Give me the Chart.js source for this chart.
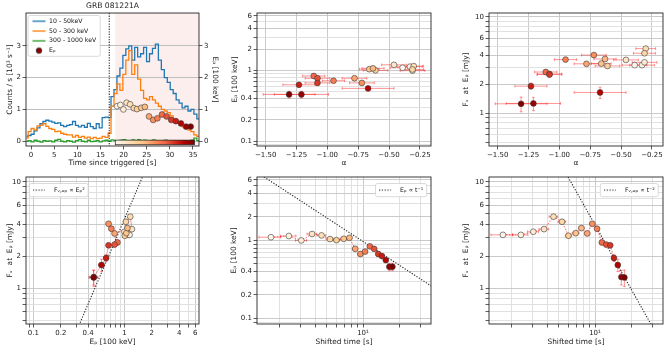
<!DOCTYPE html>
<html>
<head>
<meta charset="utf-8">
<script src="https://cdn.jsdelivr.net/npm/chart.js@4/dist/chart.umd.min.js"></script>
<style>
html,body{margin:0;padding:0;background:#fff;}
#fig{position:relative;width:670px;height:352px;overflow:hidden;background:#fff;}
#fig canvas{position:absolute;}
</style>
</head>
<body>
<div id="fig">
<canvas id="lc" width="225" height="170" style="left:0px;top:0px"></canvas>
<canvas id="alphaEp" width="220" height="170" style="left:225px;top:0px"></canvas>
<canvas id="alphaFlux" width="225" height="170" style="left:445px;top:0px"></canvas>
<canvas id="epFlux" width="225" height="182" style="left:0px;top:170px"></canvas>
<canvas id="timeEp" width="220" height="182" style="left:225px;top:170px"></canvas>
<canvas id="timeFlux" width="225" height="182" style="left:445px;top:170px"></canvas>
</div>
<script>
// ================= DATA =================
// Light curves (GRB 081221A), bin centres [s] and count rates [10^3 counts/s]
const lcTime = [-0.96,-0.32,0.32,0.96,1.60,2.24,2.88,3.52,4.16,4.80,5.44,6.08,6.72,7.36,8.00,8.64,9.28,9.92,10.56,11.20,
  11.84,12.48,13.12,13.76,14.40,15.04,15.68,16.32,16.96,17.60,18.24,18.88,19.52,20.16,20.80,21.44,22.08,22.72,23.36,24.00,
  24.64,25.28,25.92,26.56,27.20,27.84,28.48,29.12,29.76,30.40,31.04,31.68,32.32,32.96,33.60,34.24,34.88,35.52,36.16,36.80];
const counts10to50 = [0.15,0.18,0.22,0.33,0.42,0.55,0.62,0.66,0.63,0.60,0.56,0.58,0.50,0.46,0.50,0.52,0.62,0.50,0.45,0.50,
  0.44,0.56,0.46,0.40,0.55,0.42,0.74,0.76,0.74,1.40,1.62,2.05,2.30,2.70,2.90,3.00,2.55,2.95,2.65,2.75,
  2.95,2.50,2.75,2.92,3.05,2.55,2.25,2.00,1.85,1.62,1.50,1.30,1.20,1.05,1.10,0.95,1.00,0.85,0.70,0.65];
const counts50to300 = [0.10,0.30,0.40,0.35,0.48,0.50,0.55,0.47,0.40,0.37,0.30,0.32,0.25,0.22,0.20,0.20,0.13,0.18,0.12,0.15,
  0.10,0.13,0.08,0.12,0.08,0.10,0.15,0.12,0.25,1.10,1.50,1.80,1.60,2.10,2.55,2.85,2.10,2.40,1.95,1.60,
  1.35,1.30,1.40,1.30,1.20,1.10,1.00,0.95,0.90,0.80,0.70,0.60,0.55,0.45,0.40,0.35,0.30,0.20,0.15,0.12];
const counts300to1000 = [0.00,0.02,-0.02,0.03,0.00,-0.03,0.02,0.00,0.01,-0.02,0.03,0.06,0.00,-0.02,0.02,0.00,-0.03,0.02,0.05,0.00,
  -0.02,0.03,-0.01,0.00,0.02,-0.02,0.01,0.03,0.00,0.04,0.02,0.00,0.03,0.05,0.02,0.00,0.04,0.02,0.05,0.01,
  0.03,0.00,0.02,0.04,0.01,0.00,0.02,0.03,0.00,0.01,0.02,0.00,0.01,0.02,0.00,0.01,0.03,0.10,0.02,0.00];

// Time-resolved spectral intervals
const sinceTrigger   = [18.6,19.3,19.95,20.65,21.4,22.2,22.9,23.8,24.6,25.5,26.4,27.3,28.3,29.3,30.3,31.3,32.4,33.5,34.5];
const shiftedTime    = [1.7,2.4,3.05,3.75,4.5,5.3,6.0,6.9,7.7,8.6,9.5,10.4,11.4,12.4,13.4,14.4,15.5,16.6,17.6];
const shiftedTimeErr = [0.35,0.35,0.33,0.35,0.37,0.40,0.35,0.45,0.40,0.45,0.45,0.45,0.50,0.50,0.50,0.50,0.55,0.55,0.50];
const peakEnergy     = [1.10,1.14,1.00,1.21,1.16,1.04,1.01,1.05,1.08,0.78,0.67,0.72,0.84,0.78,0.67,0.63,0.56,0.46,0.46];
const peakEnergyErr  = [0.05,0.05,0.05,0.06,0.05,0.05,0.04,0.05,0.05,0.04,0.04,0.04,0.04,0.04,0.04,0.04,0.04,0.05,0.05];
const fluxAtPeak     = [3.17,3.17,3.39,3.59,4.70,4.21,3.11,3.29,3.67,3.27,4.03,3.62,2.69,2.57,2.53,1.92,1.65,1.27,1.26];
const fluxAtPeakErr  = [0.14,0.14,0.15,0.16,0.20,0.18,0.14,0.15,0.16,0.15,0.18,0.16,0.14,0.13,0.13,0.14,0.22,0.20,0.22];
const alphaIndex     = [-0.39,-0.33,-0.31,-0.46,-0.30,-0.31,-0.61,-0.66,-0.63,-0.78,-0.72,-0.95,-1.11,-1.08,-1.08,-1.23,-0.67,-1.21,-1.31];
const alphaErr       = [0.10,0.10,0.10,0.10,0.08,0.09,0.10,0.08,0.09,0.10,0.10,0.09,0.09,0.10,0.10,0.13,0.21,0.22,0.21];

// Reference power laws (end points)
const lawEp2X = [0.30, 1.60];  const lawEp2Y = [0.40, 11.4];   // F ∝ Ep^2
const lawT1X  = [1.30, 37.0];  const lawT1Y  = [7.46, 0.262];  // Ep ∝ t^-1
const lawT2X  = [5.50, 37.0];  const lawT2Y  = [13.0, 0.288];  // F ∝ t^-2

// Tick / grid values
const timeTicks  = [0,5,10,15,20,25,30,35];
const countTicks = [0,1,2,3];
const alphaTicks = [-1.5,-1.25,-1.0,-0.75,-0.5,-0.25];
const epGrid     = [0.09,0.1,0.2,0.3,0.4,0.5,0.6,0.7,0.8,0.9,1,2,3,4,5,6];
const epLabels   = [0.1,0.2,0.4,1,2,4,6];
const fluxGrid   = [0.5,0.6,0.7,0.8,0.9,1,2,3,4,5,6,7,8,9,10];
const fluxLabels = [1,2,4,6,10];
const shiftGrid  = [2,3,4,5,6,7,8,9,10,20,30];
const shiftLabels= [10];

// Panel-1 decorations (time axis units)
const FIT_SPAN_START = 18.2;
const TRIGGER_MARK = 16.9;
const CBAR_T = [18.2, 35.3];
const CBAR_Y = [0.035, -0.11];

// ================= STYLE =================
Chart.defaults.font.family = "'DejaVu Sans', sans-serif";
Chart.defaults.font.size = 7;
Chart.defaults.color = '#222';
Chart.defaults.animation = false;
Chart.defaults.events = [];
Chart.defaults.plugins.tooltip.enabled = false;

const MAJOR_GRID = '#c4c4c4';
const MINOR_GRID = '#dedede';
const ERR_COLOR = 'rgba(255,0,0,0.42)';
const ORRD = ['#fff7ec','#fee8c8','#fdd49e','#fdbb84','#fc8d59','#ef6548','#d7301f','#b30000','#7f0000'];

function hexRgb(h){ return [parseInt(h.slice(1,3),16),parseInt(h.slice(3,5),16),parseInt(h.slice(5,7),16)]; }
function cmap(f){
  f = Math.min(1, Math.max(0, f));
  const p = f*(ORRD.length-1); const i = Math.min(Math.floor(p), ORRD.length-2); const u = p-i;
  const a = hexRgb(ORRD[i]), b = hexRgb(ORRD[i+1]);
  return 'rgb(' + a.map((v,k)=>Math.round(v+(b[k]-v)*u)).join(',') + ')';
}
const tMin = Math.min(...shiftedTime), tMax = Math.max(...shiftedTime);
const pointColors = shiftedTime.map(t => cmap((t - tMin)/(tMax - tMin)));

function pts(xs, ys){ return xs.map((x,i)=>({x, y: ys[i]})); }

function axis(o){
  const labeled = v => o.labels.some(l => Math.abs(l - v) <= 1e-9*Math.max(1, Math.abs(l)));
  const a = {
    type: o.type, position: o.position, min: o.min, max: o.max,
    afterBuildTicks: s => { s.ticks = o.grid.map(v => ({value: v})); },
    ticks: { autoSkip:false, maxRotation:0, minRotation:0, padding:1.5, color:'#222', font:{size:7},
      callback: v => labeled(v) ? o.fmt(v) : '' },
    grid: { display:true, drawOnChartArea: o.gridOn !== false,
      color: c => (c.tick && labeled(c.tick.value)) ? (o.major || MAJOR_GRID) : MINOR_GRID,
      lineWidth: 0.9, drawTicks:true, tickLength:3.5, tickColor:'#333', tickWidth:0.8 },
    border: { display:false },
    title: { display:true, text:o.title, color:'#222', font:{size:7.4}, padding:{top:o.tpad, bottom:o.tpad} }
  };
  if (o.width !== undefined) a.afterFit = s => { s.width = o.width; };
  if (o.height !== undefined) a.afterFit = s => { s.height = o.height; };
  return a;
}
const fmtPlain = v => String(+v.toFixed(2));
const fmtAlpha = v => v.toFixed(2).replace('-', '\u2212');
const fmtDecade = v => '10\u00b9';

// ----- legend helpers -----
function lineImage(color, dash, width, start, len, lw){
  const c = document.createElement('canvas'); c.width = width; c.height = 4;
  const g = c.getContext('2d'); g.strokeStyle = color; g.lineWidth = lw; g.setLineDash(dash);
  g.beginPath(); g.moveTo(start, 2); g.lineTo(start+len, 2); g.stroke(); return c;
}
function dotImage(fill, edge, r){
  const c = document.createElement('canvas'); c.width = 10; c.height = 10;
  const g = c.getContext('2d'); g.fillStyle = fill; g.strokeStyle = edge; g.lineWidth = 0.6;
  g.beginPath(); g.arc(5,5,r,0,Math.PI*2); g.fill(); g.stroke(); return c;
}
function legendItem(text, img, idx){
  return { text, pointStyle: img, fillStyle:'rgba(0,0,0,0)', strokeStyle:'rgba(0,0,0,0)', lineWidth:0,
           hidden:false, datasetIndex: idx, fontColor:'#222', textAlign:'left' };
}

// ----- plugins -----
const legendFrame = {
  id: 'legendFrame',
  beforeDraw(chart, args, o){
    const lg = chart.legend; if (!lg || !lg.legendItems || !o || !o.corner) return;
    const ca = chart.chartArea, ctx = chart.ctx, pad = lg.options.labels.padding;
    ctx.save(); ctx.font = o.fontSize + "px 'DejaVu Sans'";
    const tw = Math.max(...lg.legendItems.map(it => ctx.measureText(it.text).width));
    ctx.restore();
    const n = lg.legendItems.length;
    const W = o.padL + o.boxWidth + o.fontSize/2 + tw + o.padR;
    const H = n*o.fontSize + (n-1)*pad + 2*o.padY;
    const fx = o.corner === 'tl' ? ca.left + o.dx : ca.right - o.dx - W;
    const fy = ca.top + o.dy;
    lg.left = fx + o.padL - pad; lg.top = fy + o.padY - pad;
    lg.right = ca.right; lg.bottom = ca.bottom; lg.width = lg.right - lg.left; lg.height = lg.bottom - lg.top;
    lg._frame = {x: fx, y: fy, w: W, h: H};
  },
  afterDatasetsDraw(chart){
    const lg = chart.legend; if (!lg || !lg._frame) return;
    const f = lg._frame, ctx = chart.ctx;
    ctx.save(); ctx.fillStyle = 'rgba(255,255,255,0.92)'; ctx.strokeStyle = '#d0d0d0'; ctx.lineWidth = 0.8;
    ctx.beginPath(); ctx.roundRect(f.x, f.y, f.w, f.h, 2); ctx.fill(); ctx.stroke(); ctx.restore();
    lg.draw();
  }
};
const errorBars = {
  id: 'errorBars',
  beforeDatasetDraw(chart, args){
    const ds = chart.data.datasets[args.index];
    if (!ds.errX && !ds.errY) return;
    const xs = chart.scales[args.meta.xAxisID], ys = chart.scales[args.meta.yAxisID];
    const ctx = chart.ctx, ca = chart.chartArea, cap = 1.4;
    ctx.save(); ctx.beginPath(); ctx.rect(ca.left, ca.top, ca.right-ca.left, ca.bottom-ca.top); ctx.clip();
    ctx.strokeStyle = ERR_COLOR; ctx.lineWidth = 1;
    ds.data.forEach((p, i) => {
      const px = xs.getPixelForValue(p.x), py = ys.getPixelForValue(p.y);
      ctx.beginPath();
      if (ds.errX){
        const a = xs.getPixelForValue(p.x - ds.errX[i]), b = xs.getPixelForValue(p.x + ds.errX[i]);
        ctx.moveTo(a,py); ctx.lineTo(b,py);
        ctx.moveTo(a,py-cap); ctx.lineTo(a,py+cap); ctx.moveTo(b,py-cap); ctx.lineTo(b,py+cap);
      }
      if (ds.errY){
        const a = ys.getPixelForValue(p.y - ds.errY[i]), b = ys.getPixelForValue(p.y + ds.errY[i]);
        ctx.moveTo(px,a); ctx.lineTo(px,b);
        ctx.moveTo(px-cap,a); ctx.lineTo(px+cap,a); ctx.moveTo(px-cap,b); ctx.lineTo(px+cap,b);
      }
      ctx.stroke();
    });
    ctx.restore();
  }
};
const axesFrame = {
  id: 'axesFrame',
  afterDraw(chart){
    const ctx = chart.ctx, ca = chart.chartArea;
    ctx.save(); ctx.strokeStyle = '#262626'; ctx.lineWidth = 0.9;
    ctx.strokeRect(ca.left, ca.top, ca.right-ca.left, ca.bottom-ca.top); ctx.restore();
  }
};
const lcDecor = {
  id: 'lcDecor',
  beforeDraw(chart){
    const ctx = chart.ctx, ca = chart.chartArea, x = chart.scales.x;
    const x0 = Math.max(ca.left, x.getPixelForValue(FIT_SPAN_START));
    ctx.save(); ctx.fillStyle = '#fdeeee'; ctx.fillRect(x0, ca.top, ca.right-x0, ca.bottom-ca.top); ctx.restore();
  },
  afterDatasetsDraw(chart){
    const ctx = chart.ctx, ca = chart.chartArea, x = chart.scales.x, y = chart.scales.y;
    const tx = x.getPixelForValue(TRIGGER_MARK);
    ctx.save(); ctx.strokeStyle = '#333'; ctx.lineWidth = 1.1; ctx.setLineDash([1.3,1.3]);
    ctx.beginPath(); ctx.moveTo(tx, ca.top); ctx.lineTo(tx, ca.bottom); ctx.stroke(); ctx.restore();
    const xa = x.getPixelForValue(CBAR_T[0]), xb = x.getPixelForValue(CBAR_T[1]);
    const ya = y.getPixelForValue(CBAR_Y[0]), yb = y.getPixelForValue(CBAR_Y[1]);
    const gr = ctx.createLinearGradient(xa, 0, xb, 0);
    ORRD.forEach((c,i) => gr.addColorStop(i/(ORRD.length-1), c));
    ctx.save(); ctx.fillStyle = gr; ctx.fillRect(xa, ya, xb-xa, yb-ya);
    ctx.strokeStyle = '#222'; ctx.lineWidth = 0.7; ctx.strokeRect(xa, ya, xb-xa, yb-ya); ctx.restore();
  }
};

const markerStyle = { showLine:false, pointRadius:2.9, pointBorderWidth:0.6, pointBorderColor:'#3a3a3a',
  pointBackgroundColor: pointColors, order:0 };
const PATH_SOLID = { showLine:true, pointRadius:0, borderColor:'rgba(255,0,0,0.4)', borderWidth:1, order:1 };
const PATH_DOTTED = { showLine:true, pointRadius:0, borderColor:'rgba(255,0,0,0.6)', borderWidth:1, borderDash:[1.5,1.5], order:1 };
const LAW_STYLE = { showLine:true, pointRadius:0, borderColor:'#222', borderWidth:1.1, borderDash:[1.2,1.6], order:2 };

function lawLegend(text, corner, dx){
  return {
    legend: { display:true, position:'chartArea', align:'start',
      labels: { usePointStyle:true, pointStyleWidth:18, padding:3, color:'#222', font:{size:6.2},
        generateLabels: () => [legendItem(text, lineImage('#222', [1.2,1.6], 18, 0, 12, 1.1), 2)] } },
    legendFrame: { corner, dx, dy:6.5, padL:3.5, padR:3.5, padY:3.5, fontSize:6.2, boxWidth:18 }
  };
}
const BASE = { responsive:false, devicePixelRatio:1, animation:false };

// ================= PANEL 1: light curves =================
new Chart(document.getElementById('lc'), {
  type: 'line',
  data: { datasets: [
    { label:'Eₚ', data: pts(sinceTrigger, peakEnergy), yAxisID:'y1', ...markerStyle },
    { label:'10 - 50keV', data: pts(lcTime, counts10to50), yAxisID:'y', borderColor:'#1f77b4', borderWidth:1.3, pointRadius:0, stepped:'middle', order:3 },
    { label:'50 - 300 keV', data: pts(lcTime, counts50to300), yAxisID:'y', borderColor:'#ff7f0e', borderWidth:1.3, pointRadius:0, stepped:'middle', order:2 },
    { label:'300 - 1000 keV', data: pts(lcTime, counts300to1000), yAxisID:'y', borderColor:'#2ca02c', borderWidth:1.3, pointRadius:0, stepped:'middle', order:1 }
  ]},
  options: { ...BASE, layout:{padding:0},
    scales: {
      x: axis({type:'linear', position:'bottom', min:-1.1, max:36.3, grid:timeTicks, labels:timeTicks, fmt:fmtPlain, gridOn:false, height:24, title:'Time since triggered [s]', tpad:2.9}),
      y: axis({type:'linear', position:'left', min:-0.15, max:4.03, grid:countTicks, labels:countTicks, fmt:fmtPlain, major:'#b8b8b8', width:26, title:'Counts / s [10³ s⁻¹]', tpad:5.6}),
      y1: axis({type:'linear', position:'right', min:-0.15, max:4.03, grid:countTicks, labels:countTicks, fmt:fmtPlain, gridOn:false, width:26, title:'Eₚ [100 keV]', tpad:5.6})
    },
    plugins: {
      title: { display:true, text:'GRB 081221A', color:'#222', font:{size:7.6, weight:'normal'}, padding:{top:1.5, bottom:2.4} },
      legend: { display:true, position:'chartArea', align:'start',
        labels: { usePointStyle:true, pointStyleWidth:14, padding:3.6, color:'#222', font:{size:6.2},
          generateLabels: () => [
            legendItem('10 - 50keV', lineImage('#1f77b4', [], 14, 0.5, 13, 1.3), 1),
            legendItem('50 - 300 keV', lineImage('#ff7f0e', [], 14, 0.5, 13, 1.3), 2),
            legendItem('300 - 1000 keV', lineImage('#2ca02c', [], 14, 0.5, 13, 1.3), 3),
            legendItem('Eₚ', dotImage('#8b0000', '#222', 2.8), 0)
          ] } },
      legendFrame: { corner:'tl', dx:2, dy:2.5, padL:4, padR:4, padY:2.6, fontSize:6.2, boxWidth:14 }
    }
  },
  plugins: [lcDecor, legendFrame, axesFrame]
});

// ================= PANEL 2: alpha vs Ep =================
new Chart(document.getElementById('alphaEp'), {
  type: 'scatter',
  data: { datasets: [ { label:'intervals', data: pts(alphaIndex, peakEnergy), errX: alphaErr, errY: peakEnergyErr, ...markerStyle } ] },
  options: { ...BASE, layout:{padding:{top:13, right:14}},
    scales: {
      x: axis({type:'linear', position:'bottom', min:-1.57, max:-0.16, grid:alphaTicks, labels:alphaTicks, fmt:fmtAlpha, height:24, title:'α', tpad:2.4}),
      y: axis({type:'logarithmic', position:'left', min:0.085, max:6.6, grid:epGrid, labels:epLabels, fmt:fmtPlain, width:32, title:'Eₚ [100 keV]', tpad:5.6})
    },
    plugins: { legend:{display:false} }
  },
  plugins: [errorBars, axesFrame]
});

// ================= PANEL 3: alpha vs flux =================
new Chart(document.getElementById('alphaFlux'), {
  type: 'scatter',
  data: { datasets: [ { label:'intervals', data: pts(alphaIndex, fluxAtPeak), errX: alphaErr, errY: fluxAtPeakErr, ...markerStyle } ] },
  options: { ...BASE, layout:{padding:{top:13, right:7}},
    scales: {
      x: axis({type:'linear', position:'bottom', min:-1.57, max:-0.16, grid:alphaTicks, labels:alphaTicks, fmt:fmtAlpha, height:24, title:'α', tpad:2.4}),
      y: axis({type:'logarithmic', position:'left', min:0.46, max:11, grid:fluxGrid, labels:fluxLabels, fmt:fmtPlain, width:44, title:'Fᵥ  at  Eₚ [mJy]', tpad:16.3})
    },
    plugins: { legend:{display:false} }
  },
  plugins: [errorBars, axesFrame]
});

// ================= PANEL 4: Ep vs flux =================
new Chart(document.getElementById('epFlux'), {
  type: 'scatter',
  data: { datasets: [
    { label:'intervals', data: pts(peakEnergy, fluxAtPeak), errX: peakEnergyErr, errY: fluxAtPeakErr, ...markerStyle },
    { label:'path', data: pts(peakEnergy, fluxAtPeak), ...PATH_SOLID },
    { label:'Fᵥ,ₑₚ ∝ Eₚ²', data: pts(lawEp2X, lawEp2Y), ...LAW_STYLE }
  ]},
  options: { ...BASE, layout:{padding:{top:7, right:26}},
    scales: {
      x: axis({type:'logarithmic', position:'bottom', min:0.083, max:6.6, grid:epGrid, labels:epLabels, fmt:fmtPlain, height:28, title:'Eₚ [100 keV]', tpad:5.5}),
      y: axis({type:'logarithmic', position:'left', min:0.46, max:11.1, grid:fluxGrid, labels:fluxLabels, fmt:fmtPlain, width:26, title:'Fᵥ  at  Eₚ [mJy]', tpad:5.6})
    },
    plugins: lawLegend('Fᵥ,ₑₚ ∝ Eₚ²', 'tl', 3.3)
  },
  plugins: [errorBars, legendFrame, axesFrame]
});

// ================= PANEL 5: shifted time vs Ep =================
new Chart(document.getElementById('timeEp'), {
  type: 'scatter',
  data: { datasets: [
    { label:'intervals', data: pts(shiftedTime, peakEnergy), errX: shiftedTimeErr, errY: peakEnergyErr, ...markerStyle },
    { label:'path', data: pts(shiftedTime, peakEnergy), ...PATH_DOTTED },
    { label:'Eₚ ∝ t⁻¹', data: pts(lawT1X, lawT1Y), ...LAW_STYLE }
  ]},
  options: { ...BASE, layout:{padding:{top:7, right:14}},
    scales: {
      x: axis({type:'logarithmic', position:'bottom', min:1.3, max:37, grid:shiftGrid, labels:shiftLabels, fmt:fmtDecade, height:28, title:'Shifted time [s]', tpad:5.3}),
      y: axis({type:'logarithmic', position:'left', min:0.085, max:6.5, grid:epGrid, labels:epLabels, fmt:fmtPlain, width:32, title:'Eₚ [100 keV]', tpad:5.0})
    },
    plugins: lawLegend('Eₚ ∝ t⁻¹', 'tr', 4.3)
  },
  plugins: [errorBars, legendFrame, axesFrame]
});

// ================= PANEL 6: shifted time vs flux =================
new Chart(document.getElementById('timeFlux'), {
  type: 'scatter',
  data: { datasets: [
    { label:'intervals', data: pts(shiftedTime, fluxAtPeak), errX: shiftedTimeErr, errY: fluxAtPeakErr, ...markerStyle },
    { label:'path', data: pts(shiftedTime, fluxAtPeak), ...PATH_DOTTED },
    { label:'Fᵥ,ₑₚ ∝ t⁻²', data: pts(lawT2X, lawT2Y), ...LAW_STYLE }
  ]},
  options: { ...BASE, layout:{padding:{top:7, right:7}},
    scales: {
      x: axis({type:'logarithmic', position:'bottom', min:1.3, max:37, grid:shiftGrid, labels:shiftLabels, fmt:fmtDecade, height:28, title:'Shifted time [s]', tpad:5.3}),
      y: axis({type:'logarithmic', position:'left', min:0.46, max:11.1, grid:fluxGrid, labels:fluxLabels, fmt:fmtPlain, width:44, title:'Fᵥ  at  Eₚ [mJy]', tpad:16.3})
    },
    plugins: lawLegend('Fᵥ,ₑₚ ∝ t⁻²', 'tr', 4.7)
  },
  plugins: [errorBars, legendFrame, axesFrame]
});
</script>
</body>
</html>
